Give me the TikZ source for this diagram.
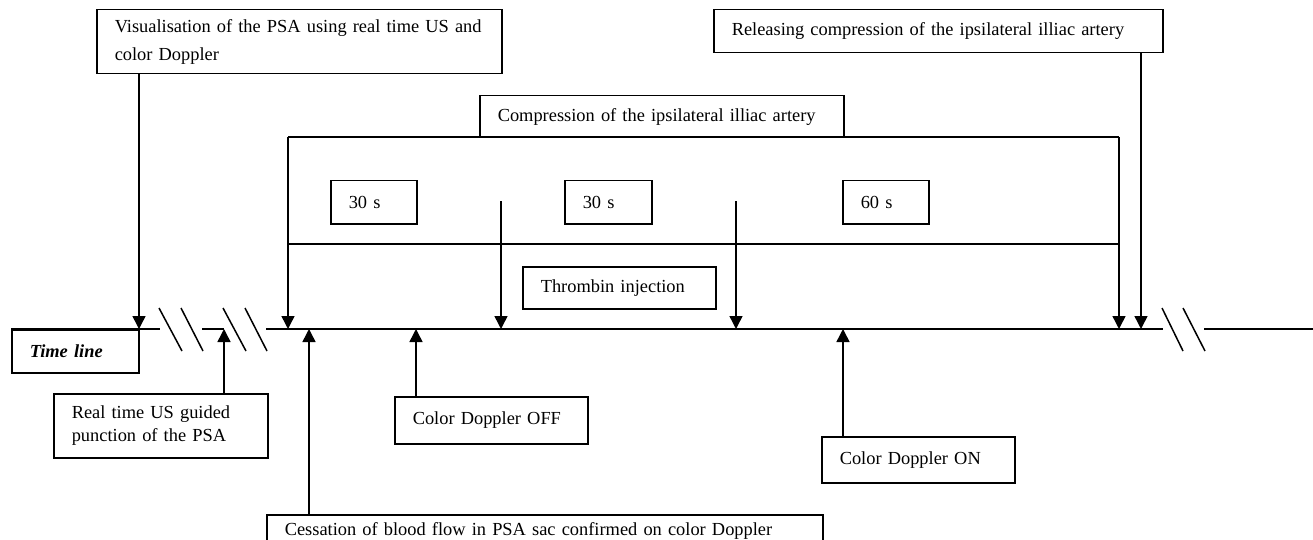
\documentclass[tikz,border=0pt]{standalone}
\usepackage{fontspec}
\setmainfont{Liberation Serif}
\usetikzlibrary{arrows.meta}
\tikzset{
  box/.style={draw, line width=1.5pt, inner xsep=18pt, inner ysep=0pt, align=left,
    anchor=north west, font=\fontsize{18.4}{23}\selectfont},
  ln/.style={line width=1.5pt},
  arr/.style={line width=1.5pt, -{Triangle[length=13pt,width=13pt]}},
}
\begin{document}
\begin{tikzpicture}[x=1pt,y=-1pt]
\useasboundingbox (0,0) rectangle (1313,540);
% boxes
\node[box, minimum width=405pt, minimum height=64pt, text width=369pt] (vis) at (96,9)
  {\mbox{Visualisation of the PSA using real time US and}\\[5pt]color Doppler};
\node[box, minimum width=449pt, minimum height=43pt, text width=413pt] (rel) at (713,9)
  {Releasing compression of the ipsilateral illiac artery};
\node[box, minimum width=364pt, minimum height=42pt, text width=328pt] (comp) at (479,95)
  {Compression of the ipsilateral illiac artery};
\node[box, minimum width=86pt, minimum height=43pt, text width=50pt] (s30a) at (330,180) {30 s};
\node[box, minimum width=87pt, minimum height=43pt, text width=51pt] (s30b) at (564,180) {30 s};
\node[box, minimum width=86pt, minimum height=43pt, text width=50pt] (s60) at (842,180) {60 s};
\node[box, minimum width=193pt, minimum height=42pt, text width=157pt] (thr) at (522,266) {Thrombin injection};
\node[box, minimum width=127pt, minimum height=43pt, text width=91pt] (tl) at (11,329) {\bfseries\itshape Time line};
\node[box, minimum width=214pt, minimum height=64pt, text width=178pt] (rt) at (53,393)
  {Real time US guided\\punction of the PSA};
\node[box, minimum width=193pt, minimum height=47pt, text width=157pt] (off) at (394,396) {Color Doppler OFF};
\node[box, minimum width=193pt, minimum height=46pt, text width=157pt] (on) at (821,436) {Color Doppler ON};
\node[box, minimum width=556pt, minimum height=32pt, text width=520pt] (ces) at (266,514)
  {\mbox{Cessation of blood flow in PSA sac confirmed on color Doppler}};
% timeline points
\coordinate (L0) at (11,329);
\coordinate (L1) at (160,329);
\coordinate (L2) at (202,329);
\coordinate (L3) at (224,329);
\coordinate (L4) at (266,329);
\coordinate (L5) at (1163,329);
\coordinate (L6) at (1204,329);
\coordinate (L7) at (1313,329);
\coordinate (T1) at (139,329);
\coordinate (T3) at (288,329);
\coordinate (T4) at (309,329);
\coordinate (T5) at (416,329);
\coordinate (I1) at (501,329);
\coordinate (I2) at (736,329);
\coordinate (T7) at (843,329);
\coordinate (T8) at (1119,329);
\coordinate (T9) at (1141,329);
\coordinate (BL) at (288,137);
\coordinate (BR) at (1119,137);
\coordinate (M1) at (288,244);
\coordinate (M2) at (1119,244);
\coordinate (J1) at (501,201);
\coordinate (J2) at (736,201);
% timeline segments
\draw[ln] (L0) -- (L1);
\draw[ln] (L2) -- (L3);
\draw[ln] (L4) -- (L5);
\draw[ln] (L6) -- (L7);
% break marks
\draw[ln] (159,308) -- (182,351);
\draw[ln] (181,308) -- (203,351);
\draw[ln] (223,308) -- (246,351);
\draw[ln] (245,308) -- (267,351);
\draw[ln] (1162,308) -- (1183,351);
\draw[ln] (1183,308) -- (1205,351);
% compression bracket
\draw[ln] (BL) -- (BR);
\draw[ln] (M1) -- (M2);
\draw[arr] (BL) -- (T3);
\draw[arr] (BR) -- (T8);
% injection arrows
\draw[arr] (J1) -- (I1);
\draw[arr] (J2) -- (I2);
% down arrows from boxes
\draw[arr] (vis.south -| T1) -- (T1);
\draw[arr] (rel.south -| T9) -- (T9);
% up arrows from boxes
\draw[arr] (rt.north -| L3) -- (L3);
\draw[arr] (ces.north -| T4) -- (T4);
\draw[arr] (off.north -| T5) -- (T5);
\draw[arr] (on.north -| T7) -- (T7);
\end{tikzpicture}
\end{document}
